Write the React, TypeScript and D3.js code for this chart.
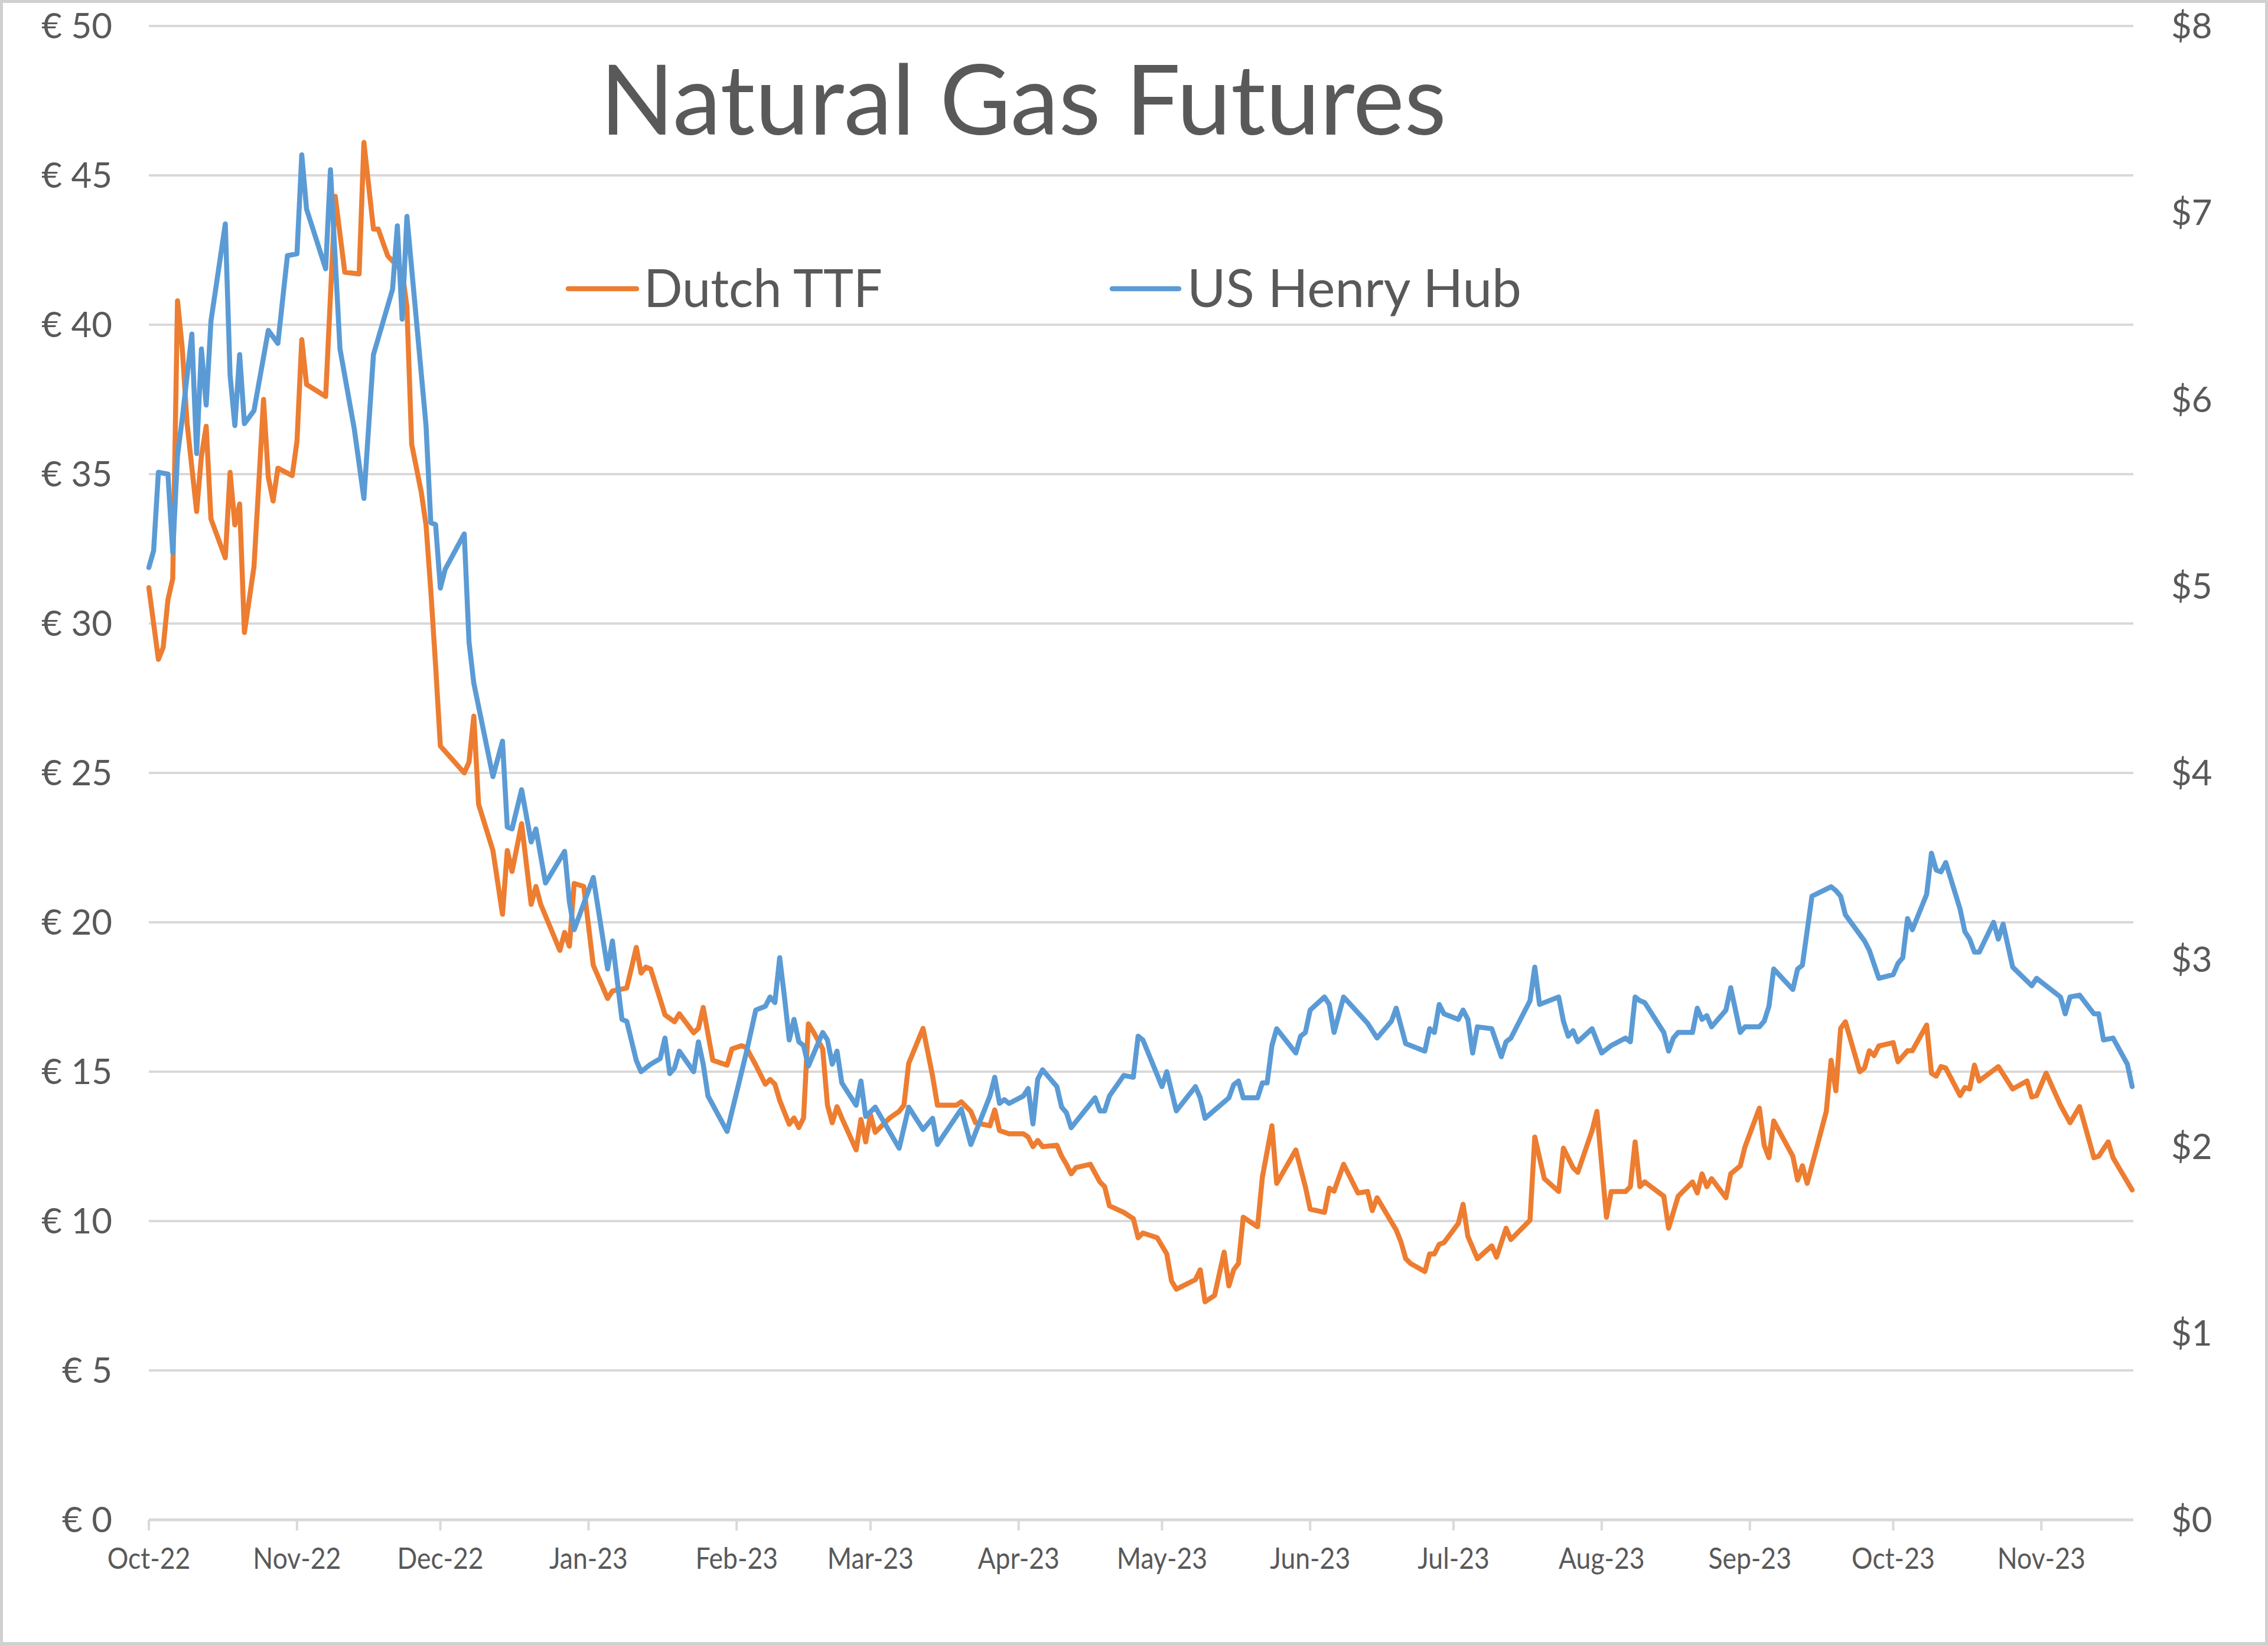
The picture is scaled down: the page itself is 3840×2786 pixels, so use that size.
import React from "react";
import * as d3 from "d3";

// ---------- DATA ----------
const xTickMonths = ["2022-10", "2022-11", "2022-12", "2023-01", "2023-02", "2023-03", "2023-04", "2023-05", "2023-06", "2023-07", "2023-08", "2023-09", "2023-10", "2023-11"];
const leftTicks = [0, 5, 10, 15, 20, 25, 30, 35, 40, 45, 50];
const rightTicks = [0, 1, 2, 3, 4, 5, 6, 7, 8];

const ttfDates = [
  "2022-10-03","2022-10-04","2022-10-05","2022-10-06","2022-10-07","2022-10-08","2022-10-09","2022-10-10","2022-10-11","2022-10-13",
  "2022-10-14","2022-10-15","2022-10-16","2022-10-19","2022-10-20","2022-10-21","2022-10-22","2022-10-23","2022-10-25","2022-10-26",
  "2022-10-27","2022-10-28","2022-10-29","2022-10-30","2022-11-02","2022-11-03","2022-11-04","2022-11-05","2022-11-09","2022-11-11",
  "2022-11-13","2022-11-16","2022-11-17","2022-11-19","2022-11-20","2022-11-22","2022-11-25","2022-11-26","2022-11-27","2022-11-29",
  "2022-11-30","2022-12-01","2022-12-02","2022-12-03","2022-12-08","2022-12-09","2022-12-10","2022-12-11","2022-12-14","2022-12-16",
  "2022-12-17","2022-12-18","2022-12-20","2022-12-22","2022-12-23","2022-12-24","2022-12-28","2022-12-29","2022-12-30","2022-12-31",
  "2023-01-02","2023-01-04","2023-01-07","2023-01-08","2023-01-11","2023-01-13","2023-01-14","2023-01-15","2023-01-16","2023-01-18",
  "2023-01-19","2023-01-21","2023-01-22","2023-01-25","2023-01-26","2023-01-27","2023-01-29","2023-02-01","2023-02-02","2023-02-04",
  "2023-02-05","2023-02-07","2023-02-09","2023-02-10","2023-02-11","2023-02-12","2023-02-14","2023-02-15","2023-02-16","2023-02-17",
  "2023-02-18","2023-02-19","2023-02-21","2023-02-22","2023-02-23","2023-02-24","2023-02-25","2023-02-28","2023-03-01","2023-03-02",
  "2023-03-03","2023-03-04","2023-03-07","2023-03-09","2023-03-10","2023-03-11","2023-03-14","2023-03-16","2023-03-17","2023-03-21",
  "2023-03-22","2023-03-24","2023-03-25","2023-03-28","2023-03-29","2023-03-30","2023-04-01","2023-04-04","2023-04-05","2023-04-06",
  "2023-04-07","2023-04-08","2023-04-11","2023-04-12","2023-04-13","2023-04-14","2023-04-15","2023-04-18","2023-04-20","2023-04-21",
  "2023-04-22","2023-04-25","2023-04-27","2023-04-28","2023-04-29","2023-05-02","2023-05-04","2023-05-05","2023-05-06","2023-05-10",
  "2023-05-11","2023-05-12","2023-05-14","2023-05-16","2023-05-17","2023-05-18","2023-05-19","2023-05-20","2023-05-23","2023-05-24",
  "2023-05-26","2023-05-27","2023-05-31","2023-06-02","2023-06-03","2023-06-06","2023-06-07","2023-06-08","2023-06-10","2023-06-13",
  "2023-06-15","2023-06-16","2023-06-17","2023-06-21","2023-06-22","2023-06-23","2023-06-24","2023-06-27","2023-06-28","2023-06-29",
  "2023-06-30","2023-07-01","2023-07-04","2023-07-05","2023-07-06","2023-07-08","2023-07-11","2023-07-12","2023-07-14","2023-07-15",
  "2023-07-19","2023-07-20","2023-07-22","2023-07-25","2023-07-26","2023-07-28","2023-07-29","2023-08-01","2023-08-02","2023-08-04",
  "2023-08-05","2023-08-08","2023-08-09","2023-08-10","2023-08-11","2023-08-12","2023-08-16","2023-08-17","2023-08-19","2023-08-22",
  "2023-08-23","2023-08-24","2023-08-25","2023-08-26","2023-08-29","2023-08-30","2023-09-01","2023-09-02","2023-09-05","2023-09-06",
  "2023-09-07","2023-09-08","2023-09-12","2023-09-13","2023-09-14","2023-09-15","2023-09-19","2023-09-20","2023-09-21","2023-09-22",
  "2023-09-23","2023-09-26","2023-09-27","2023-09-28","2023-09-29","2023-09-30","2023-10-03","2023-10-04","2023-10-06","2023-10-07",
  "2023-10-10","2023-10-11","2023-10-12","2023-10-13","2023-10-14","2023-10-17","2023-10-18","2023-10-19","2023-10-20","2023-10-21",
  "2023-10-25","2023-10-28","2023-10-31","2023-11-01","2023-11-02","2023-11-04","2023-11-07","2023-11-09","2023-11-11","2023-11-14",
  "2023-11-15","2023-11-17","2023-11-18","2023-11-20","2023-11-22"
];
const ttfValues = [
  31.2,30.0,28.8,29.2,30.8,31.5,40.8,39.2,36.7,33.75,
  35.6,36.6,33.5,32.2,35.06,33.3,34.0,29.7,31.9,34.66,
  37.5,34.9,34.1,35.2,34.95,36.1,39.5,38.0,37.6,44.3,
  41.76,41.7,46.1,43.2,43.2,42.3,41.8,40.6,36.0,34.4,
  33.3,31.1,28.6,25.9,25.0,25.36,26.9,23.95,22.4,20.27,
  22.4,21.7,23.3,20.6,21.2,20.6,19.06,19.66,19.2,21.3,
  21.2,18.56,17.45,17.7,17.8,19.16,18.3,18.5,18.44,17.42,
  16.9,16.67,16.94,16.3,16.45,17.15,15.38,15.22,15.76,15.87,
  15.81,15.22,14.58,14.74,14.58,14.04,13.24,13.45,13.13,13.45,
  16.6,16.35,15.76,13.88,13.29,13.83,13.45,12.38,13.4,12.65,
  13.56,12.97,13.45,13.67,13.88,15.28,16.45,14.85,13.88,13.88,
  13.99,13.67,13.29,13.19,13.72,13.03,12.92,12.92,12.81,12.49,
  12.7,12.49,12.54,12.17,11.9,11.58,11.79,11.9,11.31,11.15,
  10.51,10.29,10.08,9.44,9.6,9.44,8.9,7.99,7.72,8.04,
  8.37,7.3,7.51,8.96,7.83,8.37,8.58,10.13,9.81,11.47,
  13.19,11.26,12.38,11.15,10.4,10.29,11.1,11.0,11.9,10.94,
  10.99,10.35,10.78,9.7,9.3,8.74,8.58,8.31,8.9,8.9,
  9.22,9.28,9.92,10.56,9.49,8.74,9.17,8.79,9.76,9.38,
  10.03,12.81,11.42,10.99,12.44,11.79,11.63,13.03,13.67,10.13,
  10.99,10.99,11.15,12.65,11.15,11.31,10.83,9.76,10.83,11.31,
  10.94,11.58,11.15,11.42,10.78,11.58,11.85,12.49,13.78,12.54,
  12.12,13.35,12.17,11.37,11.85,11.26,13.67,15.38,14.36,16.45,
  16.67,15.0,15.12,15.7,15.54,15.86,15.97,15.33,15.7,15.7,
  16.56,14.95,14.85,15.17,15.12,14.2,14.47,14.42,15.22,14.69,
  15.17,14.42,14.69,14.15,14.2,14.95,13.88,13.29,13.83,12.12,
  12.17,12.65,12.12,11.58,11.04
];

const hhDates = [
  "2022-10-03","2022-10-04","2022-10-05","2022-10-07","2022-10-08","2022-10-09","2022-10-10","2022-10-12","2022-10-13","2022-10-14",
  "2022-10-15","2022-10-16","2022-10-19","2022-10-20","2022-10-21","2022-10-22","2022-10-23","2022-10-25","2022-10-28","2022-10-30",
  "2022-11-01","2022-11-03","2022-11-04","2022-11-05","2022-11-09","2022-11-10","2022-11-12","2022-11-15","2022-11-17","2022-11-19",
  "2022-11-23","2022-11-24","2022-11-25","2022-11-26","2022-11-29","2022-11-30","2022-12-01","2022-12-02","2022-12-03","2022-12-04",
  "2022-12-08","2022-12-09","2022-12-10","2022-12-14","2022-12-16","2022-12-17","2022-12-18","2022-12-20","2022-12-22","2022-12-23",
  "2022-12-25","2022-12-29","2022-12-30","2022-12-31","2023-01-04","2023-01-07","2023-01-08","2023-01-10","2023-01-11","2023-01-13",
  "2023-01-14","2023-01-16","2023-01-18","2023-01-19","2023-01-20","2023-01-21","2023-01-22","2023-01-25","2023-01-26","2023-01-27",
  "2023-01-28","2023-02-01","2023-02-05","2023-02-07","2023-02-09","2023-02-10","2023-02-11","2023-02-12","2023-02-13","2023-02-14",
  "2023-02-15","2023-02-16","2023-02-17","2023-02-18","2023-02-21","2023-02-22","2023-02-23","2023-02-24","2023-02-25","2023-02-28",
  "2023-03-01","2023-03-02","2023-03-04","2023-03-09","2023-03-11","2023-03-14","2023-03-16","2023-03-17","2023-03-22","2023-03-24",
  "2023-03-28","2023-03-29","2023-03-30","2023-03-31","2023-04-01","2023-04-04","2023-04-05","2023-04-06","2023-04-07","2023-04-08",
  "2023-04-11","2023-04-12","2023-04-13","2023-04-14","2023-04-19","2023-04-20","2023-04-21","2023-04-22","2023-04-25","2023-04-27",
  "2023-04-28","2023-04-29","2023-05-03","2023-05-04","2023-05-06","2023-05-10","2023-05-11","2023-05-12","2023-05-17","2023-05-18",
  "2023-05-19","2023-05-20","2023-05-23","2023-05-24","2023-05-25","2023-05-26","2023-05-27","2023-05-31","2023-06-01","2023-06-02",
  "2023-06-03","2023-06-06","2023-06-07","2023-06-08","2023-06-10","2023-06-15","2023-06-17","2023-06-20","2023-06-21","2023-06-23",
  "2023-06-27","2023-06-28","2023-06-29","2023-06-30","2023-07-01","2023-07-04","2023-07-05","2023-07-06","2023-07-07","2023-07-08",
  "2023-07-11","2023-07-13","2023-07-14","2023-07-15","2023-07-19","2023-07-20","2023-07-21","2023-07-25","2023-07-26","2023-07-27",
  "2023-07-28","2023-07-29","2023-08-01","2023-08-03","2023-08-05","2023-08-08","2023-08-09","2023-08-10","2023-08-11","2023-08-12",
  "2023-08-16","2023-08-17","2023-08-18","2023-08-19","2023-08-22","2023-08-23","2023-08-24","2023-08-25","2023-08-26","2023-08-29",
  "2023-08-30","2023-09-01","2023-09-02","2023-09-05","2023-09-06","2023-09-07","2023-09-08","2023-09-12","2023-09-13","2023-09-14",
  "2023-09-16","2023-09-20","2023-09-21","2023-09-22","2023-09-23","2023-09-27","2023-09-28","2023-09-30","2023-10-03","2023-10-04",
  "2023-10-05","2023-10-06","2023-10-07","2023-10-10","2023-10-11","2023-10-12","2023-10-13","2023-10-14","2023-10-17","2023-10-18",
  "2023-10-19","2023-10-20","2023-10-21","2023-10-24","2023-10-25","2023-10-26","2023-10-28","2023-11-01","2023-11-02","2023-11-07",
  "2023-11-08","2023-11-09","2023-11-11","2023-11-14","2023-11-15","2023-11-16","2023-11-18","2023-11-21","2023-11-22"
];
const hhValues = [
  5.10,5.19,5.61,5.60,5.18,5.70,5.90,6.35,5.71,6.27,
  5.97,6.42,6.94,6.13,5.86,6.24,5.87,5.94,6.37,6.30,
  6.77,6.78,7.31,7.02,6.70,7.23,6.27,5.84,5.47,6.24,
  6.59,6.93,6.43,6.98,6.14,5.86,5.34,5.33,4.99,5.09,
  5.28,4.70,4.48,3.98,4.17,3.71,3.70,3.91,3.63,3.70,
  3.41,3.58,3.31,3.16,3.44,2.95,3.10,2.68,2.67,2.46,
  2.40,2.44,2.47,2.58,2.39,2.42,2.51,2.40,2.56,2.44,
  2.27,2.08,2.50,2.73,2.75,2.80,2.77,3.01,2.80,2.57,
  2.68,2.56,2.54,2.43,2.61,2.57,2.44,2.51,2.34,2.22,
  2.35,2.16,2.21,1.99,2.21,2.09,2.15,2.01,2.20,2.01,
  2.27,2.37,2.23,2.25,2.23,2.27,2.31,2.12,2.36,2.41,
  2.32,2.21,2.18,2.10,2.26,2.19,2.19,2.27,2.38,2.37,
  2.59,2.57,2.32,2.40,2.19,2.32,2.26,2.15,2.26,2.33,
  2.35,2.26,2.26,2.34,2.34,2.54,2.63,2.50,2.59,2.61,
  2.73,2.80,2.76,2.61,2.80,2.66,2.58,2.67,2.74,2.55,
  2.51,2.63,2.61,2.76,2.71,2.68,2.73,2.68,2.50,2.64,
  2.63,2.48,2.56,2.58,2.78,2.96,2.76,2.80,2.67,2.59,
  2.62,2.56,2.63,2.50,2.54,2.58,2.56,2.80,2.78,2.77,
  2.61,2.51,2.58,2.61,2.61,2.74,2.68,2.70,2.64,2.73,
  2.85,2.61,2.64,2.64,2.67,2.75,2.95,2.84,2.95,2.97,
  3.34,3.39,3.37,3.34,3.24,3.10,3.05,2.90,2.92,2.98,
  3.01,3.22,3.16,3.35,3.57,3.48,3.47,3.52,3.27,3.15,
  3.11,3.04,3.04,3.20,3.11,3.19,2.96,2.86,2.90,2.80,
  2.71,2.80,2.81,2.71,2.71,2.57,2.58,2.44,2.32
];

const seriesNames = ["Dutch TTF", "US Henry Hub"];
const seriesColors = ["#ED7D31", "#5B9BD5"];
const titleText = "Natural Gas Futures";

// ---------- CHART ----------
const W = 3840;
const H = 2786;
const FONT = "Lato, 'Open Sans', sans-serif";
const TEXT = "#595959";
const GRID = "#D9D9D9";

export default function App() {
  const parse = d3.timeParse("%Y-%m-%d");
  const parseMonth = d3.timeParse("%Y-%m");
  const fmt = d3.timeFormat("%b-%y");

  const x = d3
    .scaleTime()
    .domain([parse(ttfDates[0])!, parse(ttfDates[ttfDates.length - 1])!])
    .range([252, 3610]);
  const yL = d3.scaleLinear().domain([0, 50]).range([2574, 44]);
  const yR = d3.scaleLinear().domain([0, 8]).range([2574, 44]);

  const ttf = ttfDates.map((d, i) => ({ date: parse(d)!, v: ttfValues[i] }));
  const hh = hhDates.map((d, i) => ({ date: parse(d)!, v: hhValues[i] }));

  const lineL = d3
    .line<{ date: Date; v: number }>()
    .x((d) => x(d.date))
    .y((d) => yL(d.v));
  const lineR = d3
    .line<{ date: Date; v: number }>()
    .x((d) => x(d.date))
    .y((d) => yR(d.v));

  // Excel-style month ticks anchored to the first date of the axis
  const xTicks = xTickMonths.map((m) => d3.timeDay.offset(parseMonth(m)!, 2));

  const [x0] = x.range();

  return (
    <svg
      width={W}
      height={H}
      viewBox={`0 0 ${W} ${H}`}
      style={{ position: "absolute", left: 0, top: 0, display: "block", background: "#fff" }}
      fontFamily={FONT}
    >
      <rect x={2.5} y={2.5} width={W - 5} height={H - 5} fill="#fff" stroke="#D0D0D0" strokeWidth={5} />

      {/* gridlines */}
      {leftTicks.map((t) => (
        <line key={"g" + t} x1={x0} x2={3612} y1={yL(t)} y2={yL(t)} stroke={GRID} strokeWidth={t === 0 ? 5 : 4} />
      ))}

      {/* x ticks */}
      {xTicks.map((t, i) => (
        <g key={"xt" + i}>
          <line x1={x(t)} x2={x(t)} y1={yL(0)} y2={yL(0) + 18} stroke={GRID} strokeWidth={4} />
          <text
            transform={`translate(${x(t)},${2657}) scale(0.89,1)`}
            textAnchor="middle"
            fontSize={50}
            fill={TEXT}
          >
            {fmt(t)}
          </text>
        </g>
      ))}

      {/* left axis labels */}
      {leftTicks.map((t) => (
        <text key={"l" + t} x={190} y={yL(t) + 21} textAnchor="end" fontSize={60} fill={TEXT}>
          {"€ " + t}
        </text>
      ))}

      {/* right axis labels */}
      {rightTicks.map((t) => (
        <text key={"r" + t} x={3676} y={yR(t) + 21} textAnchor="start" fontSize={60} fill={TEXT}>
          {"$" + t}
        </text>
      ))}

      {/* series */}
      <path d={lineL(ttf) || ""} fill="none" stroke={seriesColors[0]} strokeWidth={8.5} strokeLinejoin="round" strokeLinecap="round" />
      <path d={lineR(hh) || ""} fill="none" stroke={seriesColors[1]} strokeWidth={8.5} strokeLinejoin="round" strokeLinecap="round" />

      {/* title */}
      <text x={1016} y={228} fontSize={165} fill={TEXT} textLength={1433} lengthAdjust="spacingAndGlyphs">
        {titleText}
      </text>

      {/* legend */}
      <line x1={962} x2={1078} y1={489} y2={489} stroke={seriesColors[0]} strokeWidth={8.5} strokeLinecap="round" />
      <text x={1090} y={520} fontSize={90} fill={TEXT} textLength={404} lengthAdjust="spacingAndGlyphs">
        {seriesNames[0]}
      </text>
      <line x1={1883} x2={1996} y1={489} y2={489} stroke={seriesColors[1]} strokeWidth={8.5} strokeLinecap="round" />
      <text x={2010} y={520} fontSize={90} fill={TEXT} textLength={566} lengthAdjust="spacingAndGlyphs">
        {seriesNames[1]}
      </text>
    </svg>
  );
}
